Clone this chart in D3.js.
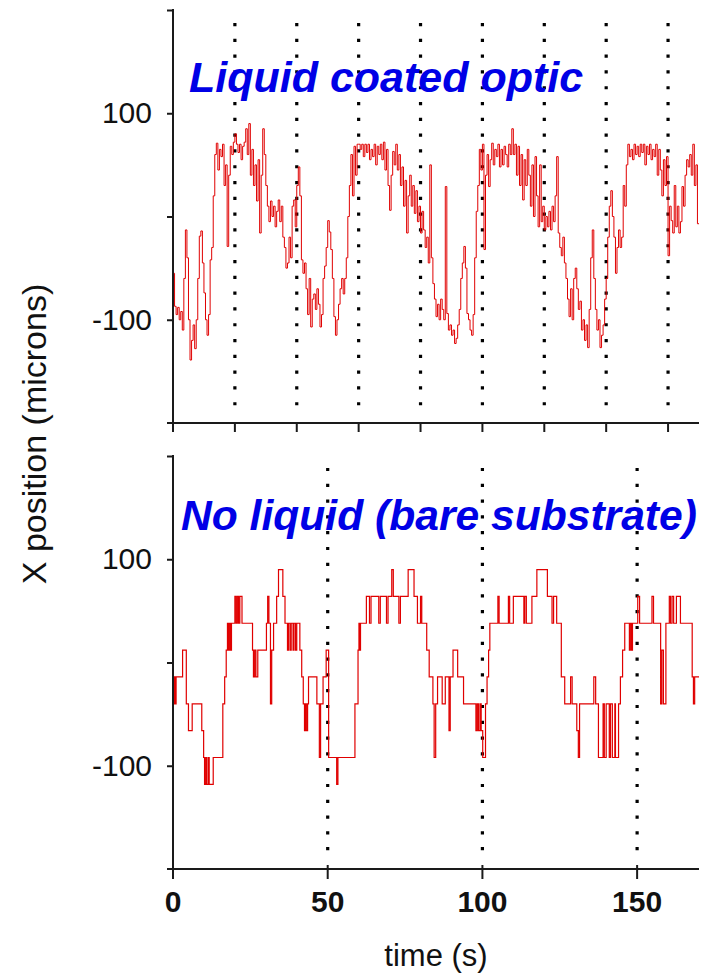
<!DOCTYPE html>
<html>
<head>
<meta charset="utf-8">
<script src="https://cdn.jsdelivr.net/npm/d3@7"></script>
<style>
  body { margin: 0; background: #fff; }
  text { font-family: "Liberation Sans", Arial, sans-serif; }
</style>
</head>
<body>
<script>
// top trace: liquid coated optic, one value every 0.5 s (microns)
const topStep = 0.5;
const topValues = [
  -55, -87, -95, -88, -100, -92, -110, -60, -13, -40, -100, -139, -120, -105, -128, -100, -60, -19, -14, -45,
  -74, -100, -115, -95, -42, -30, 20, 60, 71, 45, 65, 58, 70, 30, 50, -29, 40, 68, 60, 72,
  80, 70, 62, 70, 55, 68, 72, 85, 60, 90, 40, 65, 30, 50, 15, 55, -16, 40, 85, 60,
  30, 10, -5, 15, 0, 10, -10, 5, 16, -5, 10, -20, -30, -50, -45, -20, -40, 10, 16, -10,
  30, 48, 20, -42, -55, -45, -70, -95, -60, -107, -80, -75, -90, -70, -85, -107, -95, -60, -48, -30,
  -4, -15, -32, -60, -97, -115, -100, -85, -70, -60, -75, -60, -40, 0, 30, 60, 20, 68, 40, 70,
  70, 65, 70, 58, 70, 62, 70, 55, 65, 58, 70, 50, 68, 60, 70, 55, 72, 45, 65, 30,
  6, 40, 63, 50, 70, 45, 60, 30, 48, 10, 35, -16, 20, 40, 10, 30, 3, 25, -5, 10,
  -16, 5, -13, -30, -20, -45, 50, -40, -65, -80, -97, -85, -100, -80, -90, -100, 29, -94, -110, -105,
  -115, -110, -123, -118, -105, -90, -60, -45, -29, -50, -94, -100, -110, -115, -95, -40, 5, 30, 65, 45,
  70, -32, 40, 60, 29, 55, 71, 50, 65, 58, 70, 48, 65, 50, 68, 60, 48, 70, 60, 85,
  60, 70, 40, 68, 30, 60, 16, 55, 30, 65, 40, 10, 50, 0, 58, 20, -10, 50, -5, 10,
  -13, 0, -10, 5, -13, 10, -5, 20, 58, -16, -30, -38, -20, -45, -60, -80, -97, -70, -100, -60,
  -50, -70, -90, -82, -110, -100, -120, -105, -127, -90, -40, -13, -60, -90, -110, -100, -127, -115, -105, -80,
  -60, -20, 10, 25, 0, -20, -55, -30, -13, -30, -20, 30, 10, 50, 70, 58, 65, 55, 70, 60,
  68, 58, 70, 62, 70, 50, 68, 60, 70, 55, 65, 58, 70, 40, 65, 45, 20, 55, 30, 58,
  -38, 10, -4, -16, 30, -10, 10, -16, -5, 29, 10, 40, 55, 48, 60, 40, 70, 30, 50, -7
];

// bottom trace: bare substrate, step changes (time in s, level in microns)
const bareTimes = [
  0, 0.4, 0.7, 1.0, 3.1, 4.3, 5.0, 6.2, 9.3, 9.9, 10.2, 10.6, 10.9, 11.4, 11.7, 13.0,
  16.1, 16.7, 17.2, 17.6, 17.9, 18.3, 18.6, 18.9, 20.0, 20.4, 20.8, 21.2, 21.6, 22.3,
  25.7, 26.0, 26.4, 26.8, 27.4, 30.2, 30.6, 31.0, 31.5, 31.9, 32.5, 33.5, 34.1, 35.5,
  36.2, 37.0, 37.3, 37.8, 38.2, 38.8, 39.1, 39.6, 40.0, 41.0, 41.6, 42.1, 42.5, 42.8,
  43.1, 43.5, 43.8, 46.5, 47.3, 47.7, 48.5, 49.5, 50.3, 52.9, 53.3, 58.8, 59.8, 60.1,
  60.3, 60.6, 62.5, 63.5, 64.0, 66.5, 67.0, 69.0, 69.5, 70.7, 71.2, 73.0, 73.5, 76.0,
  77.9, 79.0, 80.0, 80.4, 82.0, 82.8, 84.0, 84.4, 84.9, 85.5, 87.0, 88.0, 89.2, 89.6,
  90.5, 92.0, 93.9, 97.9, 98.3, 98.7, 99.2, 99.6, 100.1, 101.0, 101.5, 102.0, 102.4,
  105.0, 105.4, 108.4, 108.8, 110.0, 113.4, 113.7, 114.2, 116.0, 117.6, 121.0, 122.5,
  123.0, 124.0, 125.5, 126.6, 128.5, 129.0, 130.5, 131.0, 131.4, 132.0, 136.0, 136.6,
  137.5, 139.0, 139.4, 140.0, 141.0, 141.4, 142.0, 142.8, 143.0, 144.0, 144.6, 145.3,
  146.0, 147.5, 147.8, 148.2, 148.5, 149.0, 150.2, 150.8, 154.8, 155.3, 157.6, 158.0,
  158.5, 159.3, 160.4, 160.8, 161.3, 161.8, 162.7, 164.0, 167.8, 168.2, 168.6, 170
];
const bareLevels = [
  -40, -14, -40, -14, 12, -40, -66, -40, -66, -92, -118, -92, -118, -92, -118, -92,
  -40, -14, 12, 38, 12, 38, 12, 38, 64, 38, 64, 38, 64, 38,
  12, -14, 12, -14, 12, 38, 64, 38, -40, 12, 38, 64, 90, 64,
  38, 12, 38, 12, 38, 12, 38, 12, 38, 12, -14, -40, -66, -40,
  -66, -40, -14, -40, -92, -40, -14, 12, -92, -118, -92, -40, 12, 38,
  12, 38, 64, 38, 64, 38, 64, 38, 64, 90, 64, 38, 64, 90,
  64, 38, 64, 38, 12, -14, -40, -92, -40, -14, -40, -14, -66, -14,
  12, -14, -40, -66, -40, -66, -40, -66, -92, -40, -14, 12, 38,
  64, 38, 64, 38, 64, 38, 64, 38, 64, 90, 64, 38,
  64, 38, -14, -40, -14, -40, -66, -92, -40, -40, -14, -40,
  -92, -40, -92, -40, -92, -40, -92, -40, -92, -40, -14, 12,
  38, 12, 38, 12, 38, 38, 64, 38, 64, 38, -40, 12,
  -40, 38, 64, 38, 64, 38, 64, 38, -14, -40, -14, -14
];

// axes values
const topGuides = [20, 40, 60, 80, 100, 120, 140, 160];
const bareGuides = [50, 100, 150];
const yTicks = [-200, -100, 0, 100, 200];
const yLabels = [-100, 100];
const topXTicks = [0, 20, 40, 60, 80, 100, 120, 140, 160];
const bareXTicks = [0, 50, 100, 150];

const W = 707, H = 976;
const svg = d3.select("body").append("svg")
  .attr("width", W)
  .attr("height", H);

const x = d3.scaleLinear().domain([0, 170]).range([173, 699]);
const yTop = d3.scaleLinear().domain([-200, 200]).range([423, 10]);
const yBare = d3.scaleLinear().domain([-200, 200]).range([869, 456]);

const red = "#e00000";
const axisColor = "#1a1a1a";

// dotted guides (square dots about 3px)
function guides(values, yScale, fromV, toV) {
  svg.append("g")
    .selectAll("line")
    .data(values)
    .join("line")
    .attr("x1", d => x(d)).attr("x2", d => x(d))
    .attr("y1", yScale(fromV) - 1.5).attr("y2", yScale(toV))
    .attr("stroke", "#000")
    .attr("stroke-width", 3.2)
    .attr("stroke-dasharray", "3.2 12.6");
}
guides(topGuides, yTop, 186, -186);
guides(bareGuides, yBare, 187, -184);

// traces
const topLine = d3.line()
  .x((d, i) => x(i * topStep))
  .y(d => yTop(d))
  .curve(d3.curveStepAfter);
svg.append("path")
  .datum(topValues.concat([topValues[topValues.length - 1]]))
  .attr("d", topLine)
  .attr("fill", "none")
  .attr("stroke", red)
  .attr("stroke-width", 1);

const bareLine = d3.line()
  .x((d, i) => x(bareTimes[i]))
  .y(d => yBare(d))
  .curve(d3.curveStepAfter);
svg.append("path")
  .datum(bareLevels)
  .attr("d", bareLine)
  .attr("fill", "none")
  .attr("stroke", red)
  .attr("stroke-width", 1.2);

// axes
function panelAxes(yScale, xTicks, tickUp, tickDown, showXLabels) {
  const yAxis = d3.axisLeft(yScale)
    .tickValues(yTicks.slice(1))
    .tickSize(6)
    .tickFormat(d => yLabels.includes(d) ? d : "");
  const gy = svg.append("g")
    .attr("transform", `translate(${x(0)},0)`)
    .call(yAxis);
  gy.select(".domain").remove();
  gy.selectAll("line").attr("stroke", axisColor).attr("stroke-width", 2);
  gy.selectAll("text")
    .attr("x", -21)
    .attr("font-size", 30)
    .attr("fill", "#111");

  // y axis line, running past the x axis
  svg.append("line")
    .attr("x1", x(0)).attr("x2", x(0))
    .attr("y1", yScale(200) - 1).attr("y2", yScale(-200) + tickDown)
    .attr("stroke", axisColor).attr("stroke-width", 2);

  // x axis line
  svg.append("line")
    .attr("x1", x(0) - 6).attr("x2", x(170))
    .attr("y1", yScale(-200)).attr("y2", yScale(-200))
    .attr("stroke", axisColor).attr("stroke-width", 2);

  svg.append("g")
    .selectAll("line")
    .data(xTicks.slice(1))
    .join("line")
    .attr("x1", d => x(d)).attr("x2", d => x(d))
    .attr("y1", yScale(-200) - tickUp).attr("y2", yScale(-200) + tickDown)
    .attr("stroke", axisColor).attr("stroke-width", 2);

  if (showXLabels) {
    svg.append("g")
      .selectAll("text")
      .data(xTicks)
      .join("text")
      .attr("x", d => x(d))
      .attr("y", yScale(-200) + 43)
      .attr("text-anchor", "middle")
      .attr("font-size", 30)
      .attr("font-weight", "bold")
      .attr("fill", "#111")
      .text(d => d);
  }
}
panelAxes(yTop, topXTicks, 0, 9, false);
panelAxes(yBare, bareXTicks, 4, 10, true);

// panel titles
svg.append("text")
  .attr("x", 189).attr("y", 92)
  .attr("font-size", 43)
  .attr("font-weight", "bold")
  .attr("font-style", "italic")
  .attr("fill", "#0000e6")
  .text("Liquid coated optic");

svg.append("text")
  .attr("x", 181).attr("y", 530)
  .attr("font-size", 42.6)
  .attr("font-weight", "bold")
  .attr("font-style", "italic")
  .attr("fill", "#0000e6")
  .text("No liquid (bare substrate)");

// axis titles
svg.append("text")
  .attr("transform", "translate(46,434) rotate(-90)")
  .attr("text-anchor", "middle")
  .attr("font-size", 34)
  .attr("fill", "#111")
  .text("X position (microns)");

svg.append("text")
  .attr("x", 436).attr("y", 966)
  .attr("text-anchor", "middle")
  .attr("font-size", 31)
  .attr("fill", "#111")
  .text("time (s)");
</script>
</body>
</html>
